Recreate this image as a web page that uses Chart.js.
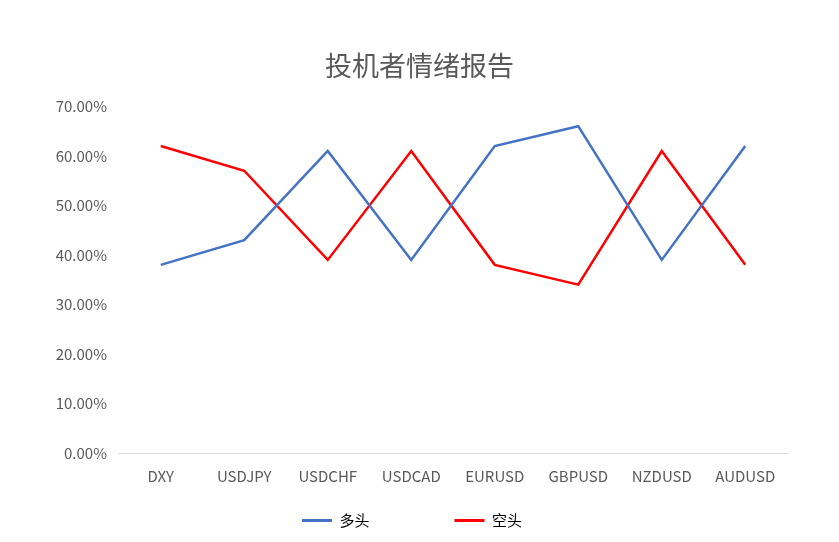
<!DOCTYPE html>
<html><head><meta charset="utf-8">
<script src="https://cdn.jsdelivr.net/npm/chart.js@4"></script>
<style>html,body{margin:0;padding:0;background:#fff}#wrap{width:839px;height:542px}</style>
</head><body><div id="wrap"><canvas id="c" width="839" height="542"></canvas></div>
<script>
const categories = ['DXY','USDJPY','USDCHF','USDCAD','EURUSD','GBPUSD','NZDUSD','AUDUSD'];
const longValues = [38, 43, 61, 39, 62, 66, 39, 62];
const shortValues = [62, 57, 39, 61, 38, 34, 61, 38];
const seriesNames = ['多头', '空头'];
const titleText = '投机者情绪报告';

const FONT = "'Noto Sans CJK SC', 'Noto Sans', sans-serif";
new Chart(document.getElementById('c'), {
  type: 'line',
  data: {
    labels: categories,
    datasets: [
      {label: seriesNames[0], data: longValues, borderColor: '#4472C4', backgroundColor: '#4472C4', borderWidth: 2.5, pointRadius: 0, tension: 0},
      {label: seriesNames[1], data: shortValues, borderColor: '#FF0000', backgroundColor: '#FF0000', borderWidth: 2.5, pointRadius: 0, tension: 0}
    ]
  },
  options: {
    responsive: false,
    animation: false,
    devicePixelRatio: 1,
    layout: {padding: {left: 0, right: 0, top: 0, bottom: 4}},
    plugins: {
      title: {display: true, text: titleText, color: '#595959', font: {family: FONT, size: 27, weight: 'normal'}, padding: {top: 50, bottom: 24}},
      legend: {
        position: 'bottom',
        labels: {
          color: '#595959', font: {family: FONT, size: 15}, boxWidth: 30, boxHeight: 3, padding: 10,
          generateLabels: (chart) => chart.data.datasets.map((d, i) => ({
            text: i === 0 ? d.label + '\u3000\u3000\u3000\u3000\u3000' : d.label + '\u3000',
            fillStyle: d.borderColor, strokeStyle: d.borderColor, lineWidth: 0, datasetIndex: i, hidden: false
          }))
        }
      },
      tooltip: {enabled: false}
    },
    scales: {
      x: {
        offset: true,
        grid: {display: false, drawTicks: false},
        border: {display: true, color: '#d9d9d9', width: 1},
        ticks: {color: '#595959', font: {family: FONT, size: 15}, padding: 14, maxRotation: 0, autoSkip: false},
        afterFit: (s) => { s.height = 50; }
      },
      y: {
        min: 0, max: 70,
        grid: {display: false, drawTicks: false},
        border: {display: false},
        ticks: {stepSize: 10, color: '#595959', font: {family: FONT, size: 15}, padding: 12, callback: (v) => v.toFixed(2) + '%'},
        afterFit: (s) => { s.width = 119; }
      },
      yRight: {
        position: 'right', min: 0, max: 70,
        grid: {display: false, drawTicks: false},
        border: {display: false},
        ticks: {display: false},
        afterFit: (s) => { s.width = 52; }
      }
    }
  }
});
</script></body></html>
